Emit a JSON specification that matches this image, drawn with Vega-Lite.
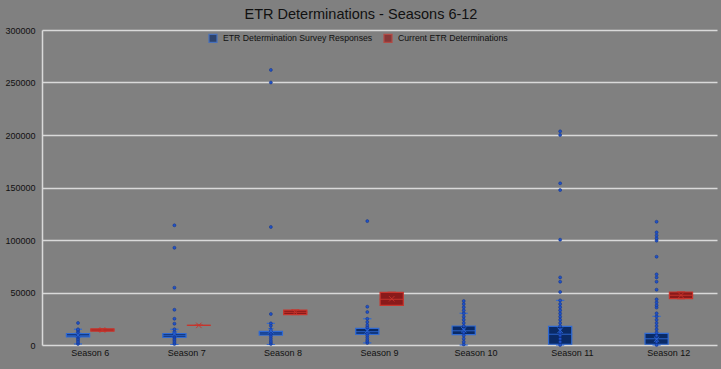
{
  "$schema": "https://vega.github.io/schema/vega-lite/v6.json",
  "width": 675,
  "height": 315,
  "autosize": {"type": "none"},
  "padding": {"left": 42, "top": 30, "right": 4, "bottom": 24},
  "background": "#808080",
  "title": {"text": "ETR Determinations - Seasons 6-12", "fontSize": 14.5, "font": "Liberation Sans", "fontWeight": "normal", "color": "#111111", "anchor": "middle", "frame": "bounds", "offset": 4},
  "config": {
    "view": {"stroke": null},
    "font": "Liberation Sans",
    "axis": {"labelFont": "Liberation Sans", "labelColor": "#111111", "labelFontSize": 9, "titleColor": "#111111"}
  },
  "datasets": {
    "boxes": [
      {"season": "Season 6", "series": "ETR Determination Survey Responses", "lo": 1000, "q1": 7700, "med": 9000, "q3": 10800, "hi": 15000, "mean": 9300},
      {"season": "Season 7", "series": "ETR Determination Survey Responses", "lo": 500, "q1": 7300, "med": 9000, "q3": 10800, "hi": 15000, "mean": 10500},
      {"season": "Season 8", "series": "ETR Determination Survey Responses", "lo": 500, "q1": 9500, "med": 11400, "q3": 13000, "hi": 20600, "mean": 13500},
      {"season": "Season 9", "series": "ETR Determination Survey Responses", "lo": 2000, "q1": 10200, "med": 12700, "q3": 15900, "hi": 25000, "mean": 13500},
      {"season": "Season 10", "series": "ETR Determination Survey Responses", "lo": 0, "q1": 9800, "med": 13600, "q3": 18100, "hi": 30200, "mean": 14500},
      {"season": "Season 11", "series": "ETR Determination Survey Responses", "lo": 0, "q1": 700, "med": 10200, "q3": 17800, "hi": 42500, "mean": 14000},
      {"season": "Season 12", "series": "ETR Determination Survey Responses", "lo": 0, "q1": 700, "med": 6000, "q3": 11100, "hi": 27300, "mean": 5500},
      {"season": "Season 6", "series": "Current ETR Determinations", "lo": 13200, "q1": 13200, "med": 14300, "q3": 15400, "hi": 15400, "mean": 14300},
      {"season": "Season 7", "series": "Current ETR Determinations", "lo": 18700, "q1": 18700, "med": 18700, "q3": 18700, "hi": 18700, "mean": 18700},
      {"season": "Season 8", "series": "Current ETR Determinations", "lo": 29000, "q1": 29000, "med": 31100, "q3": 33300, "hi": 33300, "mean": 31100},
      {"season": "Season 9", "series": "Current ETR Determinations", "lo": 37800, "q1": 37800, "med": 43500, "q3": 50200, "hi": 50200, "mean": 44000},
      {"season": "Season 12", "series": "Current ETR Determinations", "lo": 44100, "q1": 44100, "med": 47300, "q3": 50500, "hi": 50500, "mean": 47300}
    ],
    "points": [
      {"season": "Season 6", "series": "ETR Determination Survey Responses", "v": 1000},
      {"season": "Season 6", "series": "ETR Determination Survey Responses", "v": 2500},
      {"season": "Season 6", "series": "ETR Determination Survey Responses", "v": 4000},
      {"season": "Season 6", "series": "ETR Determination Survey Responses", "v": 5500},
      {"season": "Season 6", "series": "ETR Determination Survey Responses", "v": 7000},
      {"season": "Season 6", "series": "ETR Determination Survey Responses", "v": 8000},
      {"season": "Season 6", "series": "ETR Determination Survey Responses", "v": 9000},
      {"season": "Season 6", "series": "ETR Determination Survey Responses", "v": 10000},
      {"season": "Season 6", "series": "ETR Determination Survey Responses", "v": 11000},
      {"season": "Season 6", "series": "ETR Determination Survey Responses", "v": 12500},
      {"season": "Season 6", "series": "ETR Determination Survey Responses", "v": 14000},
      {"season": "Season 6", "series": "ETR Determination Survey Responses", "v": 15000},
      {"season": "Season 6", "series": "ETR Determination Survey Responses", "v": 21000},
      {"season": "Season 7", "series": "ETR Determination Survey Responses", "v": 1000},
      {"season": "Season 7", "series": "ETR Determination Survey Responses", "v": 2500},
      {"season": "Season 7", "series": "ETR Determination Survey Responses", "v": 4000},
      {"season": "Season 7", "series": "ETR Determination Survey Responses", "v": 5500},
      {"season": "Season 7", "series": "ETR Determination Survey Responses", "v": 7000},
      {"season": "Season 7", "series": "ETR Determination Survey Responses", "v": 8000},
      {"season": "Season 7", "series": "ETR Determination Survey Responses", "v": 9000},
      {"season": "Season 7", "series": "ETR Determination Survey Responses", "v": 10000},
      {"season": "Season 7", "series": "ETR Determination Survey Responses", "v": 11000},
      {"season": "Season 7", "series": "ETR Determination Survey Responses", "v": 12500},
      {"season": "Season 7", "series": "ETR Determination Survey Responses", "v": 15000},
      {"season": "Season 7", "series": "ETR Determination Survey Responses", "v": 20300},
      {"season": "Season 7", "series": "ETR Determination Survey Responses", "v": 25000},
      {"season": "Season 7", "series": "ETR Determination Survey Responses", "v": 33600},
      {"season": "Season 7", "series": "ETR Determination Survey Responses", "v": 54600},
      {"season": "Season 7", "series": "ETR Determination Survey Responses", "v": 92600},
      {"season": "Season 7", "series": "ETR Determination Survey Responses", "v": 114000},
      {"season": "Season 8", "series": "ETR Determination Survey Responses", "v": 1000},
      {"season": "Season 8", "series": "ETR Determination Survey Responses", "v": 2500},
      {"season": "Season 8", "series": "ETR Determination Survey Responses", "v": 4000},
      {"season": "Season 8", "series": "ETR Determination Survey Responses", "v": 6000},
      {"season": "Season 8", "series": "ETR Determination Survey Responses", "v": 8000},
      {"season": "Season 8", "series": "ETR Determination Survey Responses", "v": 10000},
      {"season": "Season 8", "series": "ETR Determination Survey Responses", "v": 11500},
      {"season": "Season 8", "series": "ETR Determination Survey Responses", "v": 13000},
      {"season": "Season 8", "series": "ETR Determination Survey Responses", "v": 15000},
      {"season": "Season 8", "series": "ETR Determination Survey Responses", "v": 18400},
      {"season": "Season 8", "series": "ETR Determination Survey Responses", "v": 20600},
      {"season": "Season 8", "series": "ETR Determination Survey Responses", "v": 29500},
      {"season": "Season 8", "series": "ETR Determination Survey Responses", "v": 112400},
      {"season": "Season 8", "series": "ETR Determination Survey Responses", "v": 250000},
      {"season": "Season 8", "series": "ETR Determination Survey Responses", "v": 262000},
      {"season": "Season 9", "series": "ETR Determination Survey Responses", "v": 2000},
      {"season": "Season 9", "series": "ETR Determination Survey Responses", "v": 3500},
      {"season": "Season 9", "series": "ETR Determination Survey Responses", "v": 5000},
      {"season": "Season 9", "series": "ETR Determination Survey Responses", "v": 7000},
      {"season": "Season 9", "series": "ETR Determination Survey Responses", "v": 9000},
      {"season": "Season 9", "series": "ETR Determination Survey Responses", "v": 11000},
      {"season": "Season 9", "series": "ETR Determination Survey Responses", "v": 13000},
      {"season": "Season 9", "series": "ETR Determination Survey Responses", "v": 15000},
      {"season": "Season 9", "series": "ETR Determination Survey Responses", "v": 17000},
      {"season": "Season 9", "series": "ETR Determination Survey Responses", "v": 19000},
      {"season": "Season 9", "series": "ETR Determination Survey Responses", "v": 21900},
      {"season": "Season 9", "series": "ETR Determination Survey Responses", "v": 25000},
      {"season": "Season 9", "series": "ETR Determination Survey Responses", "v": 31400},
      {"season": "Season 9", "series": "ETR Determination Survey Responses", "v": 36500},
      {"season": "Season 9", "series": "ETR Determination Survey Responses", "v": 118000},
      {"season": "Season 10", "series": "ETR Determination Survey Responses", "v": 500},
      {"season": "Season 10", "series": "ETR Determination Survey Responses", "v": 3000},
      {"season": "Season 10", "series": "ETR Determination Survey Responses", "v": 6000},
      {"season": "Season 10", "series": "ETR Determination Survey Responses", "v": 9000},
      {"season": "Season 10", "series": "ETR Determination Survey Responses", "v": 12000},
      {"season": "Season 10", "series": "ETR Determination Survey Responses", "v": 15000},
      {"season": "Season 10", "series": "ETR Determination Survey Responses", "v": 18000},
      {"season": "Season 10", "series": "ETR Determination Survey Responses", "v": 21000},
      {"season": "Season 10", "series": "ETR Determination Survey Responses", "v": 24000},
      {"season": "Season 10", "series": "ETR Determination Survey Responses", "v": 27000},
      {"season": "Season 10", "series": "ETR Determination Survey Responses", "v": 30200},
      {"season": "Season 10", "series": "ETR Determination Survey Responses", "v": 33000},
      {"season": "Season 10", "series": "ETR Determination Survey Responses", "v": 36000},
      {"season": "Season 10", "series": "ETR Determination Survey Responses", "v": 39000},
      {"season": "Season 10", "series": "ETR Determination Survey Responses", "v": 41900},
      {"season": "Season 11", "series": "ETR Determination Survey Responses", "v": 0},
      {"season": "Season 11", "series": "ETR Determination Survey Responses", "v": 3000},
      {"season": "Season 11", "series": "ETR Determination Survey Responses", "v": 6000},
      {"season": "Season 11", "series": "ETR Determination Survey Responses", "v": 9000},
      {"season": "Season 11", "series": "ETR Determination Survey Responses", "v": 12000},
      {"season": "Season 11", "series": "ETR Determination Survey Responses", "v": 15000},
      {"season": "Season 11", "series": "ETR Determination Survey Responses", "v": 18000},
      {"season": "Season 11", "series": "ETR Determination Survey Responses", "v": 21000},
      {"season": "Season 11", "series": "ETR Determination Survey Responses", "v": 24000},
      {"season": "Season 11", "series": "ETR Determination Survey Responses", "v": 27000},
      {"season": "Season 11", "series": "ETR Determination Survey Responses", "v": 30000},
      {"season": "Season 11", "series": "ETR Determination Survey Responses", "v": 33000},
      {"season": "Season 11", "series": "ETR Determination Survey Responses", "v": 36000},
      {"season": "Season 11", "series": "ETR Determination Survey Responses", "v": 39000},
      {"season": "Season 11", "series": "ETR Determination Survey Responses", "v": 42500},
      {"season": "Season 11", "series": "ETR Determination Survey Responses", "v": 50500},
      {"season": "Season 11", "series": "ETR Determination Survey Responses", "v": 60300},
      {"season": "Season 11", "series": "ETR Determination Survey Responses", "v": 64400},
      {"season": "Season 11", "series": "ETR Determination Survey Responses", "v": 100300},
      {"season": "Season 11", "series": "ETR Determination Survey Responses", "v": 147600},
      {"season": "Season 11", "series": "ETR Determination Survey Responses", "v": 154000},
      {"season": "Season 11", "series": "ETR Determination Survey Responses", "v": 200000},
      {"season": "Season 11", "series": "ETR Determination Survey Responses", "v": 203500},
      {"season": "Season 12", "series": "ETR Determination Survey Responses", "v": 0},
      {"season": "Season 12", "series": "ETR Determination Survey Responses", "v": 3000},
      {"season": "Season 12", "series": "ETR Determination Survey Responses", "v": 6000},
      {"season": "Season 12", "series": "ETR Determination Survey Responses", "v": 9000},
      {"season": "Season 12", "series": "ETR Determination Survey Responses", "v": 12000},
      {"season": "Season 12", "series": "ETR Determination Survey Responses", "v": 15000},
      {"season": "Season 12", "series": "ETR Determination Survey Responses", "v": 18000},
      {"season": "Season 12", "series": "ETR Determination Survey Responses", "v": 21000},
      {"season": "Season 12", "series": "ETR Determination Survey Responses", "v": 24000},
      {"season": "Season 12", "series": "ETR Determination Survey Responses", "v": 27300},
      {"season": "Season 12", "series": "ETR Determination Survey Responses", "v": 30200},
      {"season": "Season 12", "series": "ETR Determination Survey Responses", "v": 35600},
      {"season": "Season 12", "series": "ETR Determination Survey Responses", "v": 37800},
      {"season": "Season 12", "series": "ETR Determination Survey Responses", "v": 40600},
      {"season": "Season 12", "series": "ETR Determination Survey Responses", "v": 43500},
      {"season": "Season 12", "series": "ETR Determination Survey Responses", "v": 52700},
      {"season": "Season 12", "series": "ETR Determination Survey Responses", "v": 60300},
      {"season": "Season 12", "series": "ETR Determination Survey Responses", "v": 64400},
      {"season": "Season 12", "series": "ETR Determination Survey Responses", "v": 67300},
      {"season": "Season 12", "series": "ETR Determination Survey Responses", "v": 84100},
      {"season": "Season 12", "series": "ETR Determination Survey Responses", "v": 99400},
      {"season": "Season 12", "series": "ETR Determination Survey Responses", "v": 101600},
      {"season": "Season 12", "series": "ETR Determination Survey Responses", "v": 104400},
      {"season": "Season 12", "series": "ETR Determination Survey Responses", "v": 107300},
      {"season": "Season 12", "series": "ETR Determination Survey Responses", "v": 117400}
    ]
  },
  "encoding": {
    "x": {
      "field": "season", "type": "nominal",
      "sort": ["Season 6", "Season 7", "Season 8", "Season 9", "Season 10", "Season 11", "Season 12"],
      "scale": {"domain": ["Season 6", "Season 7", "Season 8", "Season 9", "Season 10", "Season 11", "Season 12"], "paddingInner": 0, "paddingOuter": 0},
      "axis": {"title": null, "labelAngle": 0, "domain": false, "ticks": false, "labelPadding": 3, "labelFontSize": 9}
    },
    "xOffset": {
      "field": "series", "type": "nominal",
      "scale": {"domain": ["ETR Determination Survey Responses", "Current ETR Determinations"], "paddingInner": 0.05, "paddingOuter": 1.0}
    }
  },
  "layer": [
    {
      "data": {"name": "boxes"},
      "mark": {"type": "rule", "strokeWidth": 1},
      "encoding": {
        "y": {"field": "lo", "type": "quantitative",
          "scale": {"domain": [0, 300000], "nice": false},
          "axis": {"title": null, "values": [0, 50000, 100000, 150000, 200000, 250000, 300000], "format": "d", "grid": true, "gridColor": "#d9d9d9", "gridWidth": 1.5, "domain": true, "domainColor": "#d9d9d9", "domainWidth": 1.5, "ticks": false, "labelPadding": 7, "labelFontSize": 9}},
        "y2": {"field": "hi"},
        "stroke": {"field": "series", "type": "nominal",
          "scale": {"domain": ["ETR Determination Survey Responses", "Current ETR Determinations"], "range": ["#2f6ad4", "#c8342c"]}}
      }
    },
    {
      "data": {"name": "boxes"},
      "mark": {"type": "tick", "size": 8, "thickness": 0.1, "filled": false, "strokeWidth": 1},
      "encoding": {
        "y": {"field": "lo", "type": "quantitative"},
        "stroke": {"field": "series", "type": "nominal"}
      }
    },
    {
      "data": {"name": "boxes"},
      "mark": {"type": "tick", "size": 8, "thickness": 0.1, "filled": false, "strokeWidth": 1},
      "encoding": {
        "y": {"field": "hi", "type": "quantitative"},
        "stroke": {"field": "series", "type": "nominal"}
      }
    },
    {
      "data": {"name": "boxes"},
      "mark": {"type": "bar", "strokeWidth": 1.2},
      "encoding": {
        "y": {"field": "q1", "type": "quantitative"},
        "y2": {"field": "q3"},
        "fill": {"field": "series", "type": "nominal",
          "scale": {"domain": ["ETR Determination Survey Responses", "Current ETR Determinations"], "range": ["#0a2a66", "#8a1a1a"]},
          "legend": {"title": null, "orient": "none", "legendX": 166, "legendY": 3, "direction": "horizontal", "symbolType": "square", "symbolSize": 64, "labelFontSize": 8.7, "labelLimit": 400, "labelColor": "#111111", "labelFont": "Liberation Sans", "columnPadding": 8, "symbolStrokeWidth": 1.2, "labelOffset": 5}},
        "stroke": {"field": "series", "type": "nominal"}
      }
    },
    {
      "data": {"name": "boxes"},
      "mark": {"type": "tick", "size": 23, "thickness": 0.1, "filled": false, "strokeWidth": 1.2},
      "encoding": {
        "y": {"field": "med", "type": "quantitative"},
        "stroke": {"field": "series", "type": "nominal"}
      }
    },
    {
      "data": {"name": "points"},
      "mark": {"type": "point", "shape": "circle", "filled": true, "size": 9, "opacity": 1, "fill": "#2052c8", "stroke": "#0c2f86", "strokeWidth": 0.5},
      "encoding": {
        "y": {"field": "v", "type": "quantitative"}
      }
    },
    {
      "data": {"name": "boxes"},
      "mark": {"type": "point", "shape": "M-1,-1L1,1M1,-1L-1,1", "filled": false, "size": 30, "strokeWidth": 1, "opacity": 0.9},
      "encoding": {
        "y": {"field": "mean", "type": "quantitative"},
        "stroke": {"field": "series", "type": "nominal"}
      }
    }
  ]
}
